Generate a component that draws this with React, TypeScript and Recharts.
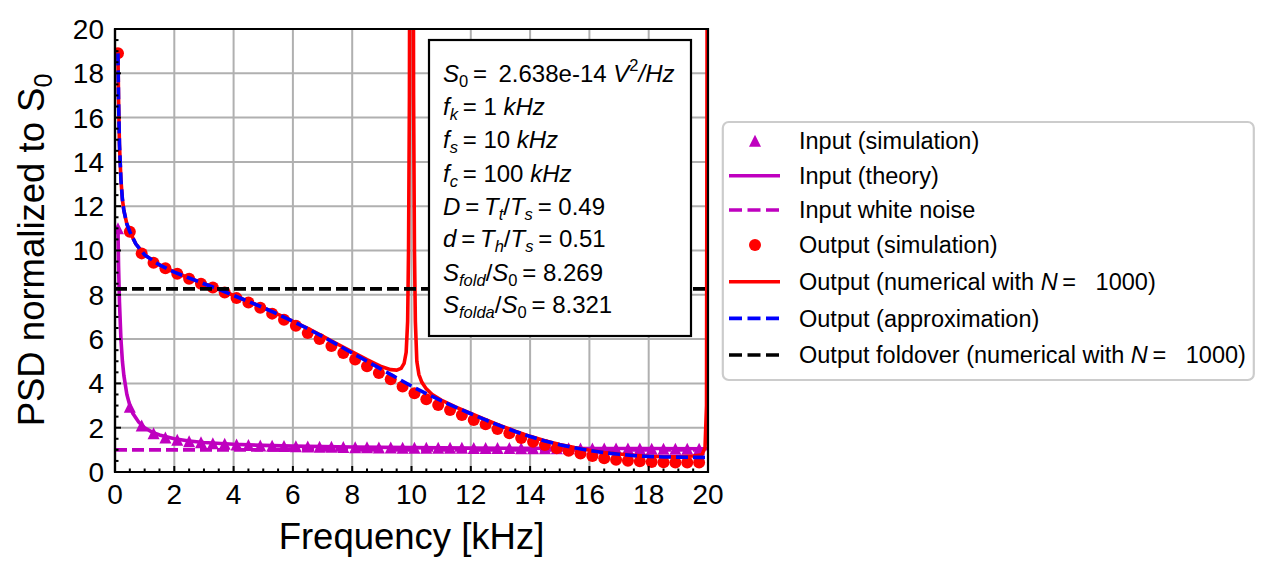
import React from 'react';
import { ComposedChart, Line, Scatter, XAxis, YAxis, ReferenceLine, ReferenceArea } from 'recharts';

// ---- data ----
const simFreq = [0.1, 0.5, 0.9, 1.3, 1.7, 2.1, 2.5, 2.9, 3.3, 3.7, 4.1, 4.5, 4.9, 5.3, 5.7, 6.1, 6.5, 6.9, 7.3, 7.7,
    8.1, 8.5, 8.9, 9.3, 9.7, 10.1, 10.5, 10.9, 11.3, 11.7, 12.1, 12.5, 12.9, 13.3, 13.7, 14.1, 14.5, 14.9, 15.3, 15.7,
    16.1, 16.5, 16.9, 17.3, 17.7, 18.1, 18.5, 18.9, 19.3, 19.7];
const inputSim = [11.0, 2.95, 2.1, 1.75, 1.56, 1.46, 1.39, 1.34, 1.3, 1.27, 1.24, 1.22, 1.2, 1.19, 1.17, 1.16, 1.15, 1.14, 1.14, 1.13,
    1.12, 1.12, 1.11, 1.11, 1.1, 1.1, 1.1, 1.09, 1.09, 1.09, 1.08, 1.08, 1.08, 1.08, 1.07, 1.07, 1.07, 1.07, 1.07, 1.06,
    1.06, 1.06, 1.06, 1.06, 1.06, 1.05, 1.05, 1.05, 1.05, 1.05];
const outputSim = [18.9, 10.85, 9.87, 9.45, 9.2, 8.95, 8.72, 8.5, 8.33, 8.1, 7.85, 7.65, 7.42, 7.15, 6.87, 6.6, 6.27, 6.0, 5.69, 5.37,
    5.08, 4.77, 4.47, 4.19, 3.86, 3.56, 3.28, 3.02, 2.8, 2.57, 2.35, 2.16, 1.94, 1.75, 1.53, 1.37, 1.22, 1.07, 0.96, 0.84,
    0.72, 0.62, 0.55, 0.51, 0.48, 0.45, 0.44, 0.43, 0.43, 0.43];

const theoryFreq = [0.1, 0.12, 0.15, 0.2, 0.25, 0.3, 0.4, 0.5, 0.6, 0.8, 1, 1.25, 1.5, 2, 2.5, 3, 4, 5, 6, 8, 10, 12, 14, 16, 18, 20];
const inputTheory = [11, 9.3, 7.7, 6, 5, 4.35, 3.5, 3, 2.65, 2.25, 2, 1.8, 1.67, 1.5, 1.4, 1.33, 1.25, 1.2, 1.17, 1.13, 1.1, 1.08, 1.07, 1.06, 1.06, 1.05];

const whiteFreq = [0, 20];
const inputWhite = [1, 1];

const approxFreq = [0.1, 0.12, 0.15, 0.2, 0.25, 0.3, 0.4, 0.5, 0.7, 1, 1.5, 2, 2.5, 3, 3.5, 4, 4.5, 5, 5.5, 6,
    6.5, 7, 7.5, 8, 8.5, 9, 9.5, 10, 10.5, 11, 11.5, 12, 12.5, 13, 13.5, 14, 14.5, 15, 15.5, 16,
    16.5, 17, 17.5, 18, 18.5, 19, 19.5, 20];
const outputApprox = [18.9, 16.8, 14.8, 13.2, 12.3, 11.8, 11.2, 10.85, 10.3, 9.8, 9.35, 9.02, 8.76, 8.5, 8.25, 7.97, 7.7, 7.42, 7.12, 6.8,
    6.47, 6.12, 5.75, 5.37, 5.0, 4.63, 4.25, 3.88, 3.54, 3.22, 2.92, 2.63, 2.35, 2.08, 1.83, 1.6, 1.4, 1.23, 1.09, 0.97,
    0.87, 0.8, 0.74, 0.7, 0.68, 0.67, 0.66, 0.66];

const numFreq = [0.1, 0.12, 0.15, 0.2, 0.25, 0.3, 0.4, 0.5, 0.7, 1, 1.5, 2, 2.5, 3, 3.5, 4, 4.5, 5, 5.5, 6,
    6.5, 7, 7.5, 8, 8.5, 9, 9.3, 9.5, 9.65, 9.75, 9.82, 9.87, 9.9, 9.93, 9.96, 10, 10.04, 10.07, 10.1, 10.13,
    10.18, 10.25, 10.35, 10.5, 10.7, 11, 11.5, 12, 12.5, 13, 13.5, 14, 14.5, 15, 15.5, 16, 16.5, 17, 17.5, 18,
    18.5, 19, 19.5, 19.8, 19.9, 19.95, 19.98, 20];
const outputNumerical = [18.9, 16.8, 14.8, 13.2, 12.3, 11.8, 11.2, 10.85, 10.3, 9.8, 9.35, 9.02, 8.76, 8.5, 8.25, 7.97, 7.7, 7.42, 7.12, 6.8,
    6.48, 6.14, 5.78, 5.42, 5.07, 4.75, 4.62, 4.6, 4.68, 4.9, 5.4, 6.8, 10, 17, 40, 300, 40, 17, 10, 6.8,
    5.0, 4.4, 4.05, 3.75, 3.5, 3.25, 2.93, 2.64, 2.36, 2.09, 1.84, 1.61, 1.41, 1.24, 1.1, 0.98, 0.88, 0.81, 0.75, 0.71,
    0.69, 0.69, 0.72, 0.78, 1.1, 3, 30, 300];

const foldFreq = [0, 20];
const outputFoldover = [8.269, 8.269];

const xGrid = [2, 4, 6, 8, 10, 12, 14, 16, 18];
const yGrid = [2, 4, 6, 8, 10, 12, 14, 16, 18];
const allTicks = Array.from({ length: 41 }, (_, i) => i * 0.5);

const pairs = (xs: number[], ys: number[]) => xs.map((f, i) => ({ f, v: ys[i] }));

// ---- styles ----
const FONT = '"Liberation Sans", Arial, Helvetica, sans-serif';
const PURPLE = '#bf00bf';
const RED = '#ff0000';
const BLUE = '#0000ff';
const LW = 3.6;
const DASH = '12 5';

const isMajor = (v: number) => Math.abs(v / 2 - Math.round(v / 2)) < 1e-6;

const XTick = (props: any) => {
    const { x, y, payload } = props;
    const major = isMajor(payload.value);
    return (
        <g>
            <line x1={x} x2={x} y1={y} y2={y - (major ? 6 : 3.5)} stroke="#000" strokeWidth={2} />
            {major && (
                <text x={x} y={y + 32} textAnchor="middle" fontSize={28} fontFamily={FONT} fill="#000">
                    {payload.value}
                </text>
            )}
        </g>
    );
};

const YTick = (props: any) => {
    const { x, y, payload } = props;
    const major = isMajor(payload.value);
    return (
        <g>
            <line x1={x} x2={x + (major ? 6 : 3.5)} y1={y} y2={y} stroke="#000" strokeWidth={2} />
            {major && (
                <text x={x - 11} y={y} dy="0.355em" textAnchor="end" fontSize={28} fontFamily={FONT} fill="#000">
                    {payload.value}
                </text>
            )}
        </g>
    );
};

const Triangle = (props: any) => {
    const { cx, cy } = props;
    if (cx == null || cy == null) return null;
    return <polygon points={`${cx},${cy - 6} ${cx - 6},${cy + 6} ${cx + 6},${cy + 6}`} fill={PURPLE} />;
};

const Dot = (props: any) => {
    const { cx, cy } = props;
    if (cx == null || cy == null) return null;
    return <circle cx={cx} cy={cy} r={6} fill={RED} />;
};

const SUB = 16.5;

const InfoBox = () => (
    <g fontFamily={FONT} fontSize={24} fill="#000">
        <rect x={429} y={40} width={262} height={296} fill="#fff" stroke="#000" strokeWidth={2.2} />
        <text x={443} y={82.3}>
            <tspan fontStyle="italic">S</tspan>
            <tspan fontSize={SUB} dy={5}>0</tspan>
            <tspan dy={-5}>{'\u2009=\u2009 2.638e-14 '}</tspan>
            <tspan fontStyle="italic">V</tspan>
            <tspan fontSize={SUB} dy={-11}>2</tspan>
            <tspan dy={11} fontStyle="italic">/Hz</tspan>
        </text>
        <text x={443} y={115}>
            <tspan fontStyle="italic">f</tspan>
            <tspan fontSize={SUB} dy={5} fontStyle="italic">k</tspan>
            <tspan dy={-5}>{'\u2009= 1 '}</tspan>
            <tspan fontStyle="italic">kHz</tspan>
        </text>
        <text x={443} y={148.3}>
            <tspan fontStyle="italic">f</tspan>
            <tspan fontSize={SUB} dy={5} fontStyle="italic">s</tspan>
            <tspan dy={-5}>{'\u2009= 10 '}</tspan>
            <tspan fontStyle="italic">kHz</tspan>
        </text>
        <text x={443} y={181.7}>
            <tspan fontStyle="italic">f</tspan>
            <tspan fontSize={SUB} dy={5} fontStyle="italic">c</tspan>
            <tspan dy={-5}>{'\u2009= 100 '}</tspan>
            <tspan fontStyle="italic">kHz</tspan>
        </text>
        <text x={443} y={215}>
            <tspan fontStyle="italic">D</tspan>
            <tspan>{'\u2009=\u2009'}</tspan>
            <tspan fontStyle="italic">T</tspan>
            <tspan fontSize={SUB} dy={5} fontStyle="italic">t</tspan>
            <tspan dy={-5}>/</tspan>
            <tspan fontStyle="italic">T</tspan>
            <tspan fontSize={SUB} dy={5} fontStyle="italic">s</tspan>
            <tspan dy={-5}>{'\u2009= 0.49'}</tspan>
        </text>
        <text x={443} y={247.3}>
            <tspan fontStyle="italic">d</tspan>
            <tspan>{'\u2009=\u2009'}</tspan>
            <tspan fontStyle="italic">T</tspan>
            <tspan fontSize={SUB} dy={5} fontStyle="italic">h</tspan>
            <tspan dy={-5}>/</tspan>
            <tspan fontStyle="italic">T</tspan>
            <tspan fontSize={SUB} dy={5} fontStyle="italic">s</tspan>
            <tspan dy={-5}>{'\u2009= 0.51'}</tspan>
        </text>
        <text x={443} y={280.7}>
            <tspan fontStyle="italic">S</tspan>
            <tspan fontSize={SUB} dy={5} fontStyle="italic">fold</tspan>
            <tspan dy={-5}>/</tspan>
            <tspan fontStyle="italic">S</tspan>
            <tspan fontSize={SUB} dy={5}>0</tspan>
            <tspan dy={-5}>{'\u2009= 8.269'}</tspan>
        </text>
        <text x={443} y={313.3}>
            <tspan fontStyle="italic">S</tspan>
            <tspan fontSize={SUB} dy={5} fontStyle="italic">folda</tspan>
            <tspan dy={-5}>/</tspan>
            <tspan fontStyle="italic">S</tspan>
            <tspan fontSize={SUB} dy={5}>0</tspan>
            <tspan dy={-5}>{'\u2009= 8.321'}</tspan>
        </text>
    </g>
);

const legendRows = [
    { label: 'Input (simulation)', kind: 'triangle', color: PURPLE },
    { label: 'Input (theory)', kind: 'line', color: PURPLE },
    { label: 'Input white noise', kind: 'dash', color: PURPLE },
    { label: 'Output (simulation)', kind: 'dot', color: RED },
    { label: 'Output (numerical with ', kind: 'line', color: RED, n: true },
    { label: 'Output (approximation)', kind: 'dash', color: BLUE },
    { label: 'Output foldover (numerical with ', kind: 'dash', color: '#000', n: true },
];
const legendBaselines = [149, 184, 218.3, 253.3, 290, 326.7, 363.3];

const LegendBox = () => (
    <g fontFamily={FONT} fontSize={23.5} fill="#000">
        <rect x={722.8} y={122} width={531} height={258} rx={6} fill="#fff" fillOpacity={0.8} stroke="#cccccc" strokeWidth={2.2} />
        {legendRows.map((r, i) => {
            const base = legendBaselines[i];
            const cy = base - 8.3;
            let handle: React.ReactNode = null;
            if (r.kind === 'triangle') {
                handle = <polygon points={`755,${cy - 6} 749,${cy + 6} 761,${cy + 6}`} fill={r.color} />;
            } else if (r.kind === 'dot') {
                handle = <circle cx={755} cy={cy} r={6} fill={r.color} />;
            } else {
                handle = (
                    <line x1={729} x2={780} y1={cy} y2={cy} stroke={r.color} strokeWidth={LW}
                        strokeDasharray={r.kind === 'dash' ? '13 5.5' : undefined} />
                );
            }
            return (
                <g key={r.label}>
                    {handle}
                    <text x={799} y={base}>
                        {r.label}
                        {r.n && <tspan fontStyle="italic">N</tspan>}
                        {r.n && <tspan>{'\u2009=\u00a0\u00a0\u00a01000)'}</tspan>}
                    </text>
                </g>
            );
        })}
    </g>
);

export default function App() {
    return (
        <div style={{ position: 'absolute', left: 0, top: 0, width: 1274, height: 574, background: '#fff', fontFamily: FONT }}>
            <ComposedChart width={1274} height={574} margin={{ top: 29, right: 566, left: 0, bottom: 42 }}>
                <XAxis
                    type="number"
                    dataKey="f"
                    domain={[0, 20]}
                    ticks={allTicks}
                    interval={0}
                    allowDataOverflow
                    height={60}
                    tickSize={0}
                    tickMargin={0}
                    tickLine={false}
                    axisLine={{ stroke: '#000', strokeWidth: 2.2 }}
                    tick={(p: any) => <XTick {...p} />}
                />
                <YAxis
                    type="number"
                    dataKey="v"
                    domain={[0, 20]}
                    ticks={allTicks}
                    interval={0}
                    allowDataOverflow
                    width={115}
                    tickSize={0}
                    tickMargin={0}
                    tickLine={false}
                    axisLine={{ stroke: '#000', strokeWidth: 2.2 }}
                    tick={(p: any) => <YTick {...p} />}
                />
                {xGrid.map((g) => (
                    <ReferenceLine key={`gx${g}`} x={g} stroke="#b0b0b0" strokeWidth={2} zIndex={-100} />
                ))}
                {yGrid.map((g) => (
                    <ReferenceLine key={`gy${g}`} y={g} stroke="#b0b0b0" strokeWidth={2} zIndex={-100} />
                ))}
                <Scatter name="Input (simulation)" data={pairs(simFreq, inputSim)} dataKey="v" shape={Triangle} isAnimationActive={false} zIndex={401} />
                <Line name="Input (theory)" data={pairs(theoryFreq, inputTheory)} dataKey="v" type="linear" stroke={PURPLE} strokeWidth={LW} dot={false} activeDot={false} isAnimationActive={false} zIndex={402} />
                <Line name="Input white noise" data={pairs(whiteFreq, inputWhite)} dataKey="v" type="linear" stroke={PURPLE} strokeWidth={LW} strokeDasharray={DASH} dot={false} activeDot={false} isAnimationActive={false} zIndex={403} />
                <Scatter name="Output (simulation)" data={pairs(simFreq, outputSim)} dataKey="v" shape={Dot} isAnimationActive={false} zIndex={404} />
                <Line name="Output (numerical)" data={pairs(numFreq, outputNumerical)} dataKey="v" type="linear" stroke={RED} strokeWidth={LW} dot={false} activeDot={false} isAnimationActive={false} zIndex={405} />
                <Line name="Output (approximation)" data={pairs(approxFreq, outputApprox)} dataKey="v" type="linear" stroke={BLUE} strokeWidth={LW} strokeDasharray={DASH} dot={false} activeDot={false} isAnimationActive={false} zIndex={406} />
                <Line name="Output foldover" data={pairs(foldFreq, outputFoldover)} dataKey="v" type="linear" stroke="#000" strokeWidth={LW} strokeDasharray={DASH} dot={false} activeDot={false} isAnimationActive={false} zIndex={407} />
                <ReferenceArea x1={0} x2={20} y1={0} y2={20} fill="none" fillOpacity={0} stroke="#000" strokeWidth={2.2} zIndex={700} />
            </ComposedChart>
            <svg width={1274} height={574} style={{ position: 'absolute', left: 0, top: 0, pointerEvents: 'none' }}>
                <InfoBox />
                <LegendBox />
                <text x={411.5} y={549.3} textAnchor="middle" fontSize={36.5} fontFamily={FONT} fill="#000">
                    Frequency [kHz]
                </text>
                <text transform="translate(44,250) rotate(-90)" textAnchor="middle" fontSize={36.5} fontFamily={FONT} fill="#000">
                    PSD normalized to S<tspan fontSize={25} dy={8}>0</tspan>
                </text>
            </svg>
        </div>
    );
}
